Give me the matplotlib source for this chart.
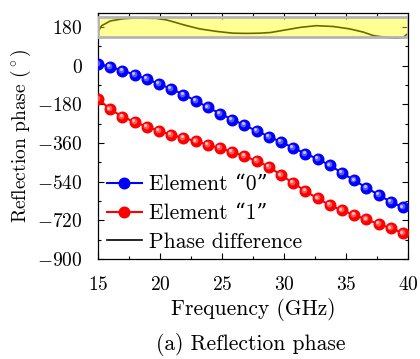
import matplotlib
matplotlib.use("Agg")
import matplotlib.pyplot as plt
import matplotlib.transforms as mtransforms
from matplotlib.patches import Rectangle
from matplotlib.ticker import MultipleLocator

plt.rcParams["font.family"] = ["cmr10", "DejaVu Serif"]
plt.rcParams["mathtext.fontset"] = "cm"
plt.rcParams["axes.formatter.use_mathtext"] = True

# sampled frequencies (GHz) for the two element curves; last point carries no marker
freq = [15.0, 15.98, 16.97, 17.95, 18.94, 19.92, 20.9, 21.89, 22.87, 23.86,
        24.84, 25.82, 26.81, 27.79, 28.78, 29.76, 30.74, 31.73, 32.71, 33.70,
        34.68, 35.66, 36.65, 37.63, 38.62, 39.6, 40.0]
elem0 = [9, -5, -23, -42, -63, -85, -108, -135, -163, -194,
         -223, -251, -277, -304, -330, -356, -382, -410, -434, -464,
         -499, -534, -568, -602, -634, -660, -670]
elem1 = [-155, -203, -237, -263, -284, -303, -322, -336, -352, -368,
         -384, -401, -421, -444, -470, -510, -546, -584, -618, -649,
         -674, -695, -716, -737, -757, -780, -790]

pd_freq = [15.0, 15.3, 16.0, 17.0, 17.8, 18.6, 19.7, 20.5, 21.2, 21.9, 23.2, 24.6,
           25.9, 27.0, 28.0, 28.9, 29.9, 31.3, 32.6, 34.0, 35.3, 36.4, 37.2,
           38.3, 39.1, 39.6, 40.0]
pd_val = [158, 186, 208, 218, 221, 221, 220, 213, 202, 190, 171, 159,
          151, 150, 151, 154, 164, 178, 186, 182, 171, 156, 140,
          131, 128, 131, 150]

band = (135, 225)

fig = plt.figure(figsize=(4.2, 3.59), dpi=100)
ax = fig.add_axes([0.2333, 0.2786, 0.7381, 0.6852])

nmark = len(freq) - 1
ms = 7.6


def shift(dx, dy):
    return mtransforms.offset_copy(ax.transData, fig=fig, x=dx, y=dy, units="points")


# ball-style markers: base disc plus two lighter offset discs for the highlight
for y, base, mid, light, lab in [(elem0, "#0000ff", "#5a5aff", "#c8caff", "Element \u201c0\u201d"),
                                 (elem1, "#ff0000", "#ff5a5a", "#ffcaca", "Element \u201c1\u201d")]:
    ax.plot(freq, y, color=base, lw=1.5, marker="o", ms=ms, mec=base, mfc=base,
            markevery=slice(0, nmark), label=lab, zorder=3)
    ax.plot(freq[:nmark], y[:nmark], ls="none", marker="o", ms=ms * 0.55,
            mec="none", mfc=mid, transform=shift(-0.7, 0.7), zorder=4)
    ax.plot(freq[:nmark], y[:nmark], ls="none", marker="o", ms=ms * 0.28,
            mec="none", mfc=light, transform=shift(-1.2, 1.2), zorder=5)

ax.plot(pd_freq, pd_val, color="black", lw=1.2, label="Phase difference", zorder=2)
ax.add_patch(Rectangle((15, band[0]), 25, band[1] - band[0], facecolor=(1, 1, 0, 0.42),
                       edgecolor="#b4b4b4", lw=2.0, zorder=6))

ax.set_xlim(15, 40)
ax.set_ylim(-900, 245)
ax.xaxis.set_major_locator(MultipleLocator(5))
ax.xaxis.set_minor_locator(MultipleLocator(2.5))
ax.yaxis.set_major_locator(MultipleLocator(180))
ax.yaxis.set_minor_locator(MultipleLocator(90))
ax.tick_params(which="both", direction="in", top=True, right=True, labelsize=14)
ax.tick_params(which="major", length=4.5, width=0.8)
ax.tick_params(which="minor", length=2.5, width=0.8)
ax.tick_params(axis="y", which="major", pad=11)
ax.tick_params(axis="x", which="major", pad=12)
for s in ax.spines.values():
    s.set_linewidth(0.9)

ax.set_xlabel("Frequency (GHz)", fontsize=15.5, labelpad=3)
ax.set_ylabel("Reflection phase ($^\\circ$)", fontsize=14, labelpad=3)

ax.legend(loc="lower left", bbox_to_anchor=(0.0, -0.005), frameon=False, fontsize=15.5,
          handlelength=1.65, handletextpad=0.3, borderaxespad=0.1, borderpad=0.3,
          labelspacing=0.42)

fig.text(0.597, 0.04, "(a) Reflection phase", ha="center", va="center", fontsize=15.5)

fig.savefig("out.png", dpi=100)
